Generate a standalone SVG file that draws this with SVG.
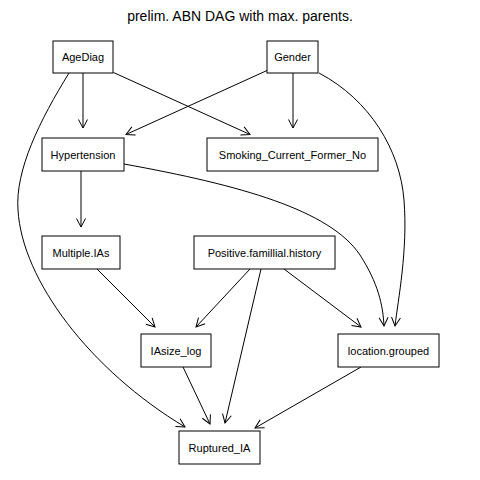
<svg xmlns="http://www.w3.org/2000/svg" width="480" height="480" viewBox="0 0 480 480">
<style>
.n rect{fill:#fff;stroke:#000;stroke-width:1}
.n text{font-family:"Liberation Sans",Arial,sans-serif;font-size:11px;text-anchor:middle;fill:#000}
.e path{fill:none;stroke:#000;stroke-width:1;marker-end:url(#a)}
.t{font-family:"Liberation Sans",Arial,sans-serif;font-size:14px;text-anchor:middle;fill:#000}
</style>
<defs>
<marker id="a" markerUnits="userSpaceOnUse" markerWidth="20" markerHeight="20" viewBox="-10 -10 20 20" refX="0" refY="0" orient="auto" overflow="visible">
<path d="M-8.5,-4.5 L0,0 L-8.5,4.5" fill="none" stroke="#000" stroke-width="1"/>
</marker>
</defs>
<rect width="480" height="480" fill="#fff"/>
<text class="t" x="240" y="21">prelim. ABN DAG with max. parents.</text>
<g class="e" id="edges">
<path d="M83,73 L83,128"/>
<path d="M113.5,72.5 L250,134.5"/>
<path d="M267,70.5 L126,134.5"/>
<path d="M293,73 L293,128"/>
<path d="M81,171 L81,227"/>
<path d="M319,73 C370,100 400,150 404,200 C408,250 398,300 395,326"/>
<path d="M69,73 C40,120 15,170 18,210 C22,280 90,370 185,427"/>
<path d="M124,164 C240,185 330,210 360,255 C378,283 383,305 384,326"/>
<path d="M97,269 L155,327"/>
<path d="M250,269 L196,327"/>
<path d="M261,269 L225,423"/>
<path d="M284,269 L361,327"/>
<path d="M183,367 L210,424"/>
<path d="M361,367 L255,428"/>
</g>
<g class="n" id="AgeDiag"><rect x="53" y="41" width="60" height="32"/><text x="83" y="61">AgeDiag</text></g>
<g class="n" id="Gender"><rect x="267" y="41" width="51" height="32"/><text x="292.5" y="61">Gender</text></g>
<g class="n" id="Hypertension"><rect x="42" y="138" width="82" height="33"/><text x="83" y="158.5">Hypertension</text></g>
<g class="n" id="Smoking"><rect x="207" y="138" width="171" height="33"/><text x="292.5" y="158.5">Smoking_Current_Former_No</text></g>
<g class="n" id="MultipleIAs"><rect x="42" y="236" width="78" height="33"/><text x="81" y="256.5">Multiple.IAs</text></g>
<g class="n" id="Positive"><rect x="194" y="236" width="141" height="33"/><text x="264.5" y="256.5">Positive.famillial.history</text></g>
<g class="n" id="IAsize"><rect x="141" y="334" width="70" height="33"/><text x="176" y="354.5">IAsize_log</text></g>
<g class="n" id="location"><rect x="338" y="334" width="101" height="33"/><text x="388.5" y="354.5">location.grouped</text></g>
<g class="n" id="Ruptured"><rect x="179" y="431" width="81" height="33"/><text x="219.5" y="451.5">Ruptured_IA</text></g>
</svg>
